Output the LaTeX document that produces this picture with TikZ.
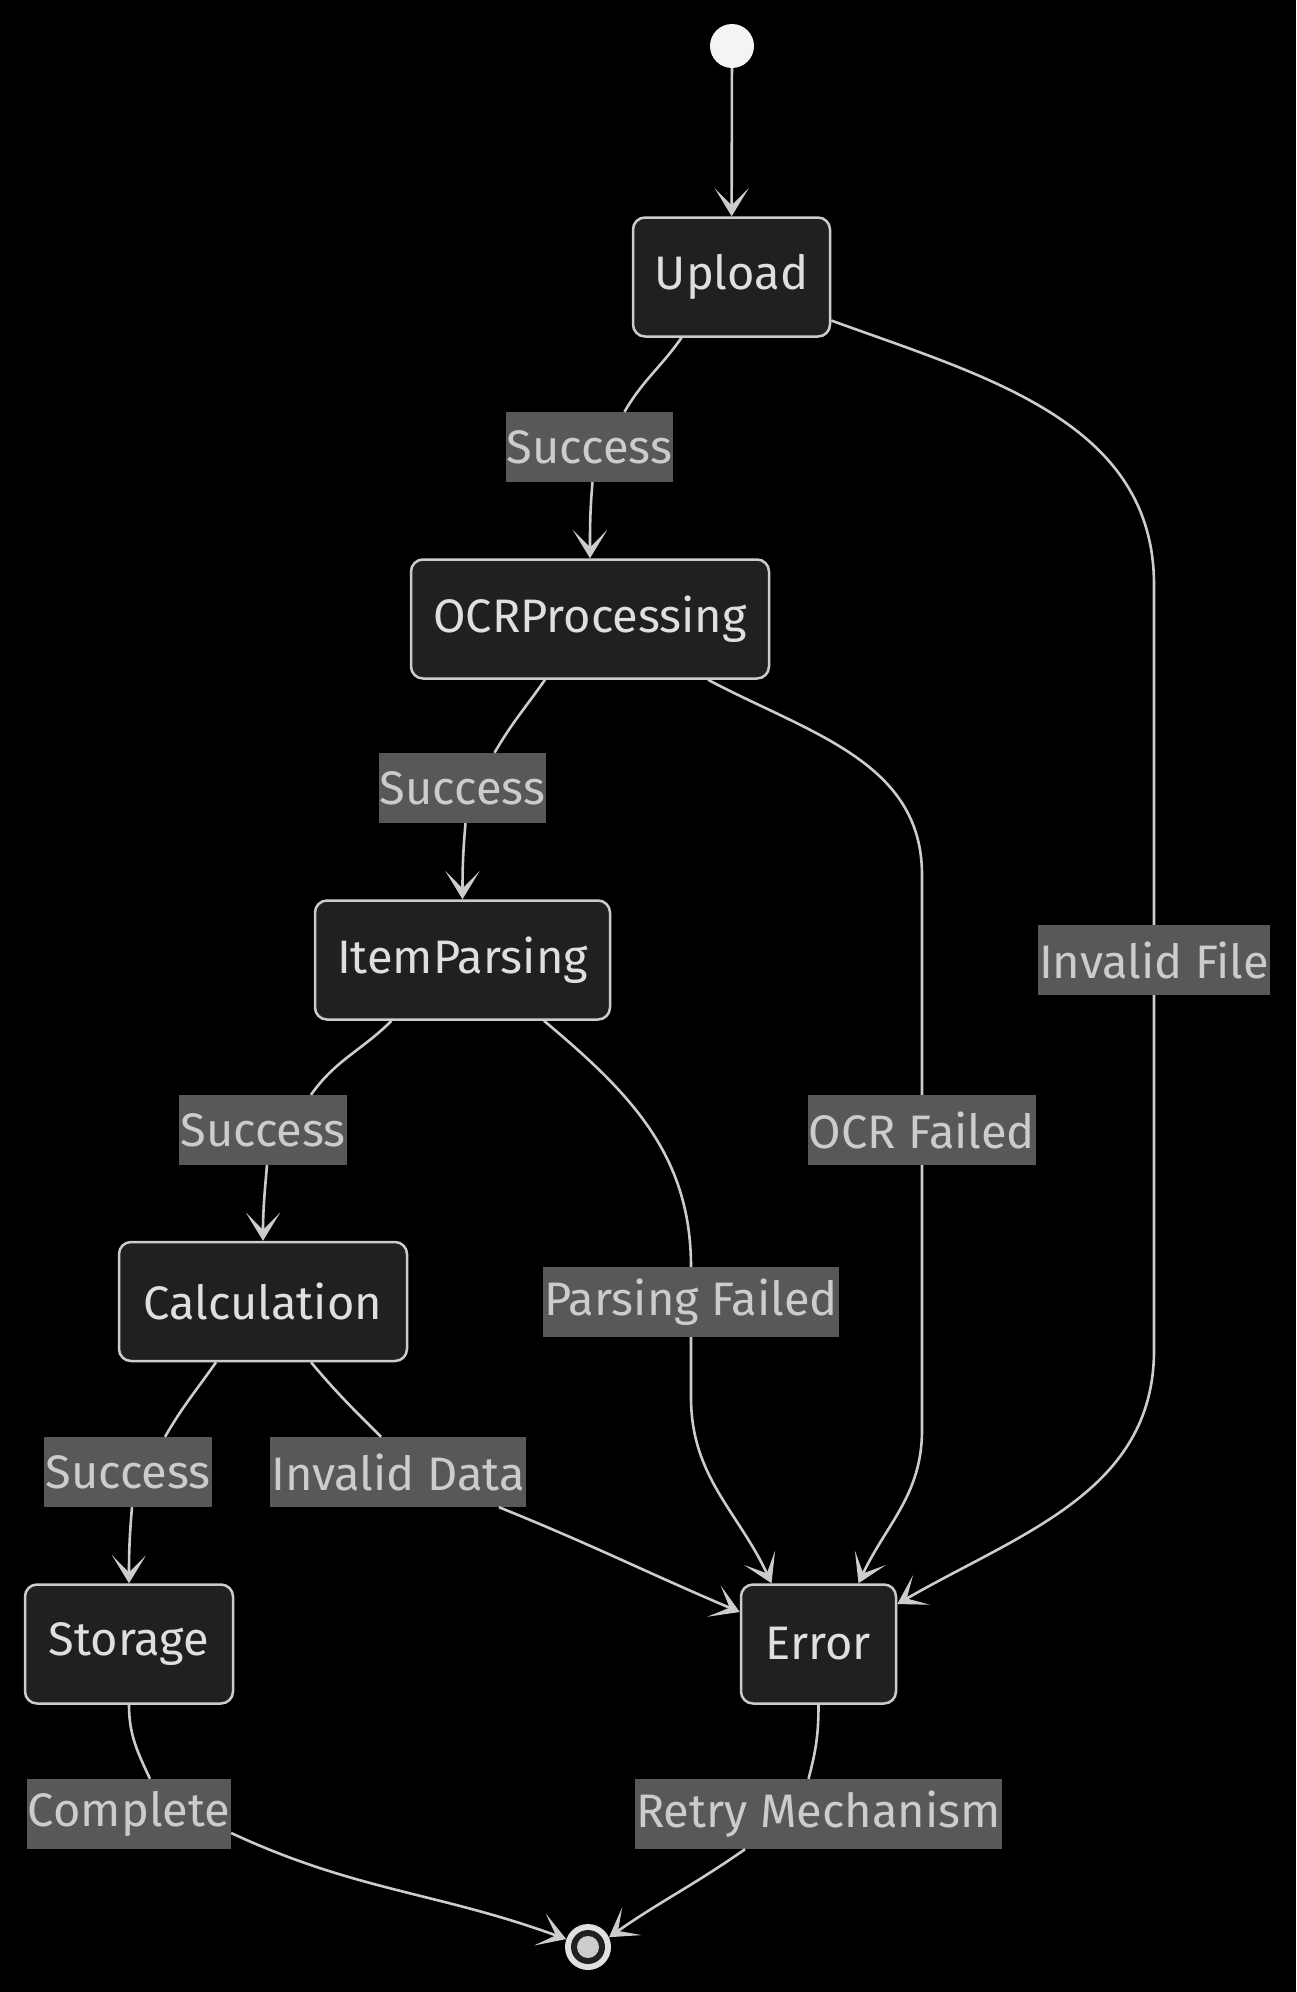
\documentclass[tikz,border=0pt]{standalone}
\usepackage{fontspec}
\setmainfont{Fira Sans}
\usetikzlibrary{arrows.meta,positioning}
\definecolor{statefill}{RGB}{31,32,32}
\definecolor{stateline}{RGB}{204,204,204}
\definecolor{statetext}{RGB}{224,223,223}
\definecolor{edgecol}{RGB}{204,204,204}
\definecolor{lblfill}{RGB}{88,88,88}
\definecolor{lbltext}{RGB}{204,204,204}
\definecolor{startcol}{RGB}{244,244,244}
\definecolor{ringcol}{RGB}{224,224,224}

\begin{document}
\begin{tikzpicture}[x=1pt,y=-1pt,
    state/.style={draw=stateline,fill=statefill,text=statetext,rounded corners=12pt,
        line width=2.5pt,minimum height=119pt,inner sep=0pt,font=\fontsize{47}{56}\selectfont},
    lbl/.style={fill=lblfill,text=lbltext,inner xsep=1pt,inner ysep=0pt,
        minimum height=70pt,font=\fontsize{47}{56}\selectfont},
    startstate/.style={circle,fill=startcol,minimum size=44pt,inner sep=0pt},
    endstate/.style={circle,fill=ringcol,minimum size=46pt,inner sep=0pt},
    edge/.style={draw=edgecol,line width=2.6pt},
    tip/.style={-{Stealth[length=28pt,width=34pt,inset=17pt]}}]
    \fill[black] (0,0) rectangle (1296,1992);
    \useasboundingbox (0,0) rectangle (1296,1992);

    \node[startstate] (start) at (732,46) {};
    \node[state,minimum width=197pt] (upload) at (731.5,277) {Upload};
    \node[state,minimum width=358pt] (ocr) at (590,619) {OCRProcessing};
    \node[state,minimum width=295pt] (parse) at (462.5,960) {ItemParsing};
    \node[state,minimum width=288pt] (calc) at (263,1301.5) {Calculation};
    \node[state,minimum width=208pt] (storage) at (129,1644) {Storage};
    \node[state,minimum width=155pt] (error) at (818.5,1644) {Error};
    \node[endstate] (end) at (588,1947) {};
    \fill[statefill] (end) circle (17);
    \fill[stateline] (end) circle (11);

    \node[lbl] (succ1) at (589.5,447) {Success};
    \node[lbl] (succ2) at (462.5,788) {Success};
    \node[lbl] (succ3) at (263,1130) {Success};
    \node[lbl] (succ4) at (128,1472) {Success};
    \node[lbl] (baddata) at (398,1472) {Invalid Data};
    \node[lbl] (parsefail) at (691,1302) {Parsing Failed};
    \node[lbl] (ocrfail) at (922,1130) {OCR Failed};
    \node[lbl] (badfile) at (1154,960) {Invalid File};
    \node[lbl] (complete) at (129,1814) {Complete};
    \node[lbl] (retry) at (818.5,1814) {Retry Mechanism};

    \draw[edge,tip] (start) -- (upload);
    \draw[edge] ([xshift=-50pt]upload.south) to[out=-125,in=60] ([xshift=35pt]succ1.north);
    \draw[edge,tip] ([xshift=3pt]succ1.south) to[out=-95,in=90] (ocr.north);
    \draw[edge] ([xshift=-45pt]ocr.south) to[out=-125,in=60] ([xshift=32pt]succ2.north);
    \draw[edge,tip] ([xshift=3pt]succ2.south) to[out=-95,in=90] (parse.north);
    \draw[edge] ([xshift=-71pt]parse.south) to[out=-135,in=55] ([xshift=48pt]succ3.north);
    \draw[edge,tip] ([xshift=4pt]succ3.south) to[out=-95,in=90] (calc.north);
    \draw[edge] ([xshift=-47pt]calc.south) to[out=-125,in=60] ([xshift=37pt]succ4.north);
    \draw[edge,tip] ([xshift=4pt]succ4.south) to[out=-95,in=90] (storage.north);

    \draw[edge] ([xshift=48pt]calc.south) to[out=-50,in=135] ([xshift=-17pt]baddata.north);
    \draw[edge,tip] ([xshift=101pt]baddata.south) to[out=-22,in=157] ([yshift=32pt]error.west);
    \draw[edge] ([xshift=81.5pt]parse.south) to[out=-40,in=90] (parsefail.north);
    \draw[edge,tip] (parsefail.south) -- ([yshift=-60pt]parsefail.south)
        to[out=-90,in=115] ([xshift=-47pt]error.north);
    \draw[edge] ([xshift=118pt]ocr.south) to[out=-28,in=90] ([yshift=220pt]ocrfail.north) -- (ocrfail.north);
    \draw[edge,tip] (ocrfail.south) -- ([yshift=-265pt]ocrfail.south)
        to[out=-90,in=65] ([xshift=40pt]error.north);
    \draw[edge] ([yshift=-43.5pt]upload.east) to[out=-20,in=90] ([yshift=340pt]badfile.north) -- (badfile.north);
    \draw[edge,tip] (badfile.south) -- ([yshift=-355pt]badfile.south)
        to[out=-90,in=30] ([yshift=40pt]error.east);

    \draw[edge] (storage.south) to[out=-90,in=115] ([xshift=21pt]complete.north);
    \draw[edge,tip] ([yshift=-19pt]complete.east) to[out=-25,in=160] (end.160);
    \draw[edge] (error.south) to[out=-90,in=75] ([xshift=-10pt]retry.north);
    \draw[edge,tip] ([xshift=-73.5pt]retry.south) to[out=-145,in=35] (end.25);
\end{tikzpicture}
\end{document}
